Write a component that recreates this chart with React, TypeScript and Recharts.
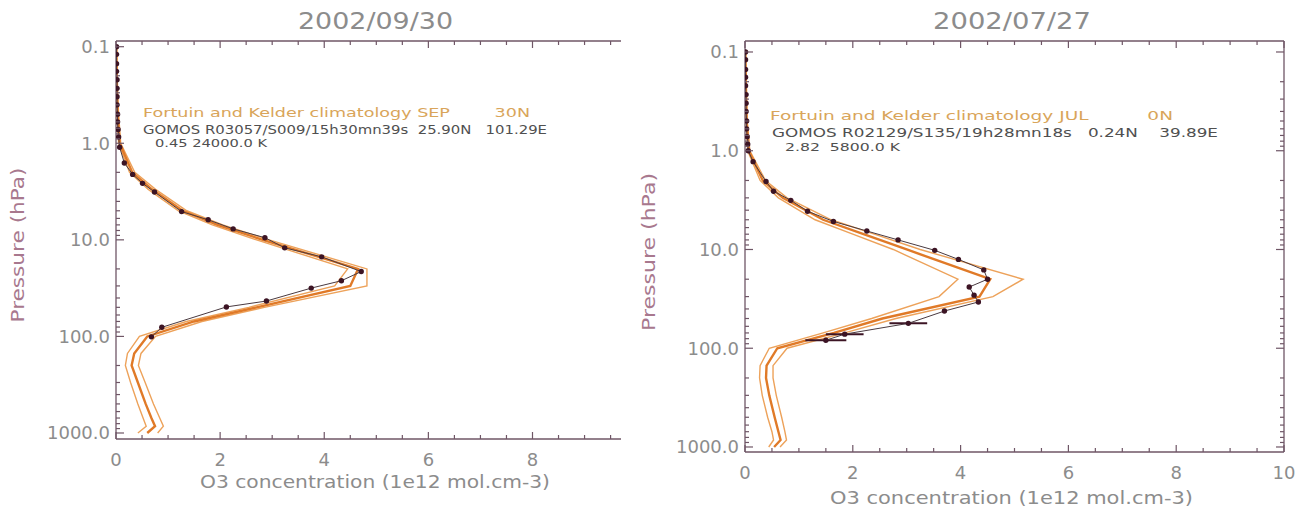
import React from 'react';
import { ComposedChart, Line, Scatter, XAxis, YAxis, ErrorBar } from 'recharts';

// Fortuin & Kelder pressure levels (hPa)
const LEVELS = [0.1, 0.3, 0.5, 1, 2, 3, 5, 7, 10, 20, 30, 50, 70, 100, 150, 200, 300, 500, 700, 850, 1000];

// climatology SEP 30N (low / mean / high), 1e12 mol.cm-3
const SEP_LOW = [0.0, 0.01, 0.02, 0.05, 0.26, 0.62, 1.2, 1.85, 2.7, 4.45, 4.2, 2.55, 1.35, 0.45, 0.22, 0.18, 0.28, 0.42, 0.52, 0.58, 0.42];
const SEP_MEAN = [0.005, 0.02, 0.03, 0.07, 0.31, 0.69, 1.28, 1.95, 2.82, 4.65, 4.5, 2.7, 1.5, 0.6, 0.35, 0.3, 0.42, 0.57, 0.68, 0.75, 0.6];
const SEP_HIGH = [0.01, 0.03, 0.05, 0.09, 0.36, 0.76, 1.36, 2.05, 2.94, 4.82, 4.82, 2.85, 1.65, 0.76, 0.48, 0.43, 0.56, 0.72, 0.84, 0.91, 0.8];

// climatology JUL 0N
const JUL_LOW = [0.0, 0.01, 0.02, 0.05, 0.28, 0.62, 1.3, 2.0, 2.75, 3.95, 3.6, 2.35, 1.45, 0.45, 0.28, 0.27, 0.32, 0.42, 0.5, 0.53, 0.44];
const JUL_MEAN = [0.005, 0.02, 0.03, 0.07, 0.33, 0.7, 1.45, 2.2, 3.0, 4.55, 4.35, 2.55, 1.65, 0.6, 0.4, 0.39, 0.45, 0.55, 0.62, 0.66, 0.54];
const JUL_HIGH = [0.01, 0.03, 0.04, 0.09, 0.38, 0.78, 1.6, 2.4, 3.25, 5.16, 4.6, 2.8, 1.85, 0.78, 0.52, 0.52, 0.58, 0.68, 0.74, 0.77, 0.65];

// GOMOS R03057 profile
const GOMOS_SEP_P = [0.1, 0.12, 0.15, 0.18, 0.22, 0.27, 0.33, 0.4, 0.5, 0.6, 0.72, 0.86, 1.1, 1.6, 2.1, 2.6, 3.2, 5.1, 6.2, 7.7, 9.5, 12.1, 15.0, 21.3, 26.5, 31.6, 43, 49.5, 80.5, 101];
const GOMOS_SEP_X = [0.01, 0.01, 0.01, 0.01, 0.02, 0.02, 0.02, 0.02, 0.03, 0.03, 0.04, 0.05, 0.07, 0.16, 0.32, 0.51, 0.74, 1.26, 1.77, 2.25, 2.86, 3.24, 3.95, 4.71, 4.33, 3.75, 2.89, 2.12, 0.88, 0.68];

// GOMOS R02129 profile
const GOMOS_JUL_P = [0.1, 0.12, 0.15, 0.18, 0.22, 0.27, 0.33, 0.4, 0.5, 0.6, 0.72, 0.86, 1.0, 1.29, 2.05, 2.57, 3.18, 4.1, 5.2, 6.5, 8.0, 10.2, 12.6, 16.1, 20, 24, 29, 34, 42, 56, 72, 83];
const GOMOS_JUL_X = [0.01, 0.01, 0.01, 0.01, 0.01, 0.02, 0.02, 0.02, 0.03, 0.03, 0.04, 0.05, 0.06, 0.15, 0.39, 0.53, 0.85, 1.16, 1.64, 2.26, 2.84, 3.52, 3.96, 4.43, 4.5, 4.16, 4.25, 4.33, 3.7, 3.03, 1.85, 1.5];
const GOMOS_JUL_ERR = [0, 0, 0, 0, 0, 0, 0, 0, 0, 0, 0, 0, 0, 0, 0, 0, 0, 0, 0, 0, 0, 0, 0, 0, 0, 0, 0, 0, 0, 0.35, 0.35, 0.38];

const Y_MAJOR = [0.1, 1, 10, 100, 1000];
const Y_LABELS = ['0.1', '1.0', '10.0', '100.0', '1000.0'];

const AXIS = '#6f5666';
const TXT = '#8c8c8c';
const ORANGE = '#e07a28';
const ORANGE_LIGHT = '#eda25a';
const DOT = '#3c1424';
const FONT = 'DejaVu Sans, sans-serif';

const rows = (xs: number[], ps: number[], es?: number[]) =>
  ps.map((p, i) => ({ p, x: xs[i], e: es ? es[i] : 0 }));

const yTicks: number[] = [];
Y_MAJOR.forEach((m) => {
  for (let k = 1; k < 10; k++) if (m * k < 1100) yTicks.push(m * k);
});

const xTicks = (max: number) => {
  const t: number[] = [];
  for (let v = 0; v <= max + 1e-9; v += 0.5) t.push(v);
  return t;
};

const isMajorX = (v: number) => Math.abs(v / 2 - Math.round(v / 2)) < 1e-6;
const yLabel = (v: number) => {
  const i = Y_MAJOR.findIndex((m) => Math.abs(m - v) / m < 1e-6);
  return i >= 0 ? Y_LABELS[i] : null;
};

const BottomTick = (props: any) => {
  const { x, y, payload } = props;
  const major = isMajorX(payload.value);
  return (
    <g>
      <line x1={x} x2={x} y1={y} y2={y - (major ? 7 : 4)} stroke={AXIS} strokeWidth={1.2} />
      {major && (
        <text x={x} y={y + 27} textAnchor="middle" fill={TXT} fontSize={18} fontFamily={FONT}>
          {payload.value}
        </text>
      )}
    </g>
  );
};

const TopTick = (props: any) => {
  const { x, y, payload } = props;
  const major = isMajorX(payload.value);
  return <line x1={x} x2={x} y1={y} y2={y + (major ? 7 : 4)} stroke={AXIS} strokeWidth={1.2} />;
};

const LeftTick = (props: any) => {
  const { x, y, payload } = props;
  const lab = yLabel(payload.value);
  return (
    <g>
      <line x1={x} x2={x + (lab ? 8 : 4)} y1={y} y2={y} stroke={AXIS} strokeWidth={1.2} />
      {lab && (
        <text x={x - 6} y={y} dy="0.36em" textAnchor="end" fill={TXT} fontSize={18} fontFamily={FONT}>
          {lab}
        </text>
      )}
    </g>
  );
};

const RightTick = (props: any) => {
  const { x, y, payload } = props;
  const lab = yLabel(payload.value);
  return <line x1={x} x2={x - (lab ? 8 : 4)} y1={y} y2={y} stroke={AXIS} strokeWidth={1.2} />;
};

const Dot = (props: any) => <circle cx={props.cx} cy={props.cy} r={2.7} fill={DOT} />;

interface PanelProps {
  width: number;
  margin: { top: number; left: number; right: number; bottom: number };
  xMax: number;
  yDomain: [number, number];
  low: number[];
  mean: number[];
  high: number[];
  gomos: { p: number; x: number; e: number }[];
  rightSpine?: boolean;
  errors?: boolean;
}

const Panel = ({ width, margin, xMax, yDomain, low, mean, high, gomos, rightSpine, errors }: PanelProps) => (
  <ComposedChart width={width} height={512} margin={margin}>
    <XAxis
      xAxisId="b"
      type="number"
      dataKey="x"
      domain={[0, xMax]}
      allowDataOverflow
      ticks={xTicks(xMax)}
      interval={0}
      height={1}
      tickSize={0}
      tickMargin={0}
      tickLine={false}
      tick={<BottomTick />}
      axisLine={{ stroke: AXIS, strokeWidth: 1.3 }}
    />
    <XAxis
      xAxisId="t"
      orientation="top"
      type="number"
      dataKey="x"
      domain={[0, xMax]}
      allowDataOverflow
      ticks={xTicks(xMax)}
      interval={0}
      height={1}
      tickSize={0}
      tickMargin={0}
      tickLine={false}
      tick={<TopTick />}
      axisLine={{ stroke: AXIS, strokeWidth: 1.3 }}
    />
    <YAxis
      yAxisId="l"
      type="number"
      dataKey="p"
      scale="log"
      reversed
      domain={yDomain}
      allowDataOverflow
      ticks={yTicks}
      interval={0}
      width={1}
      tickSize={0}
      tickMargin={0}
      tickLine={false}
      tick={<LeftTick />}
      axisLine={{ stroke: AXIS, strokeWidth: 1.3 }}
    />
    {rightSpine && (
      <YAxis
        yAxisId="r"
        orientation="right"
        type="number"
        dataKey="p"
        scale="log"
        reversed
        domain={yDomain}
        allowDataOverflow
        ticks={yTicks}
        interval={0}
        width={1}
        tickSize={0}
        tickMargin={0}
        tickLine={false}
        tick={<RightTick />}
        axisLine={{ stroke: AXIS, strokeWidth: 1.3 }}
      />
    )}
    <Line xAxisId="b" yAxisId="l" data={rows(low, LEVELS)} dataKey="p" type="linear" stroke={ORANGE_LIGHT} strokeWidth={1.4} dot={false} isAnimationActive={false} />
    <Line xAxisId="b" yAxisId="l" data={rows(high, LEVELS)} dataKey="p" type="linear" stroke={ORANGE_LIGHT} strokeWidth={1.4} dot={false} isAnimationActive={false} />
    <Line xAxisId="b" yAxisId="l" data={rows(mean, LEVELS)} dataKey="p" type="linear" stroke={ORANGE} strokeWidth={2.4} dot={false} isAnimationActive={false} />
    <Scatter
      xAxisId="b"
      yAxisId="l"
      data={gomos}
      line={{ stroke: '#4a3a40', strokeWidth: 1 }}
      shape={<Dot />}
      isAnimationActive={false}
    >
      {errors && <ErrorBar dataKey="e" direction="x" stroke={DOT} strokeWidth={2} width={0} />}
    </Scatter>
  </ComposedChart>
);

const T = (p: any) => <text fontFamily={FONT} lengthAdjust="spacingAndGlyphs" dominantBaseline="central" {...p} />;

export default function App() {
  return (
    <div style={{ position: 'absolute', left: 0, top: 0, width: 1304, height: 512, background: '#fff' }}>
      <div style={{ position: 'absolute', left: 0, top: 0 }}>
        <Panel
          width={640}
          margin={{ top: 40, left: 115, right: 19, bottom: 72 }}
          xMax={9.7}
          yDomain={[0.0873, 1154]}
          low={SEP_LOW}
          mean={SEP_MEAN}
          high={SEP_HIGH}
          gomos={rows(GOMOS_SEP_X, GOMOS_SEP_P)}
        />
      </div>
      <div style={{ position: 'absolute', left: 640, top: 0 }}>
        <Panel
          width={664}
          margin={{ top: 40, left: 104, right: 19, bottom: 59 }}
          xMax={10}
          yDomain={[0.0774, 1124]}
          low={JUL_LOW}
          mean={JUL_MEAN}
          high={JUL_HIGH}
          gomos={rows(GOMOS_JUL_X, GOMOS_JUL_P, GOMOS_JUL_ERR)}
          rightSpine
          errors
        />
      </div>
      <svg width={1304} height={512} style={{ position: 'absolute', left: 0, top: 0, pointerEvents: 'none' }}>
        <T x={298} y={21} fontSize={23} fill={TXT} textLength={155}>2002/09/30</T>
        <T x={933} y={21} fontSize={23} fill={TXT} textLength={158}>2002/07/27</T>

        <T x={18} y={245} fontSize={17} fill="#a8788e" textAnchor="middle" textLength={155} transform="rotate(-90 18 245)">Pressure (hPa)</T>
        <T x={649} y={252} fontSize={17} fill="#a8788e" textAnchor="middle" textLength={158} transform="rotate(-90 649 252)">Pressure (hPa)</T>

        <T x={200} y={482} fontSize={17} fill={TXT} textLength={350}>O3 concentration (1e12 mol.cm-3)</T>
        <T x={830} y={498} fontSize={17} fill={TXT} textLength={363}>O3 concentration (1e12 mol.cm-3)</T>

        <T x={143} y={113} fontSize={12} fill="#d9a55a" textLength={387} xmlSpace="preserve">Fortuin and Kelder climatology SEP        30N</T>
        <T x={143} y={130} fontSize={12} fill="#505050" textLength={404} xmlSpace="preserve">GOMOS R03057/S009/15h30mn39s  25.90N   101.29E</T>
        <T x={155} y={143} fontSize={11} fill="#505050" textLength={112} xmlSpace="preserve">0.45 24000.0 K</T>

        <T x={770} y={116} fontSize={12} fill="#d9a55a" textLength={403} xmlSpace="preserve">Fortuin and Kelder climatology JUL          0N</T>
        <T x={772} y={133} fontSize={12} fill="#505050" textLength={446} xmlSpace="preserve">GOMOS R02129/S135/19h28mn18s   0.24N    39.89E</T>
        <T x={785} y={147} fontSize={11} fill="#505050" textLength={115} xmlSpace="preserve">2.82  5800.0 K</T>
      </svg>
    </div>
  );
}
